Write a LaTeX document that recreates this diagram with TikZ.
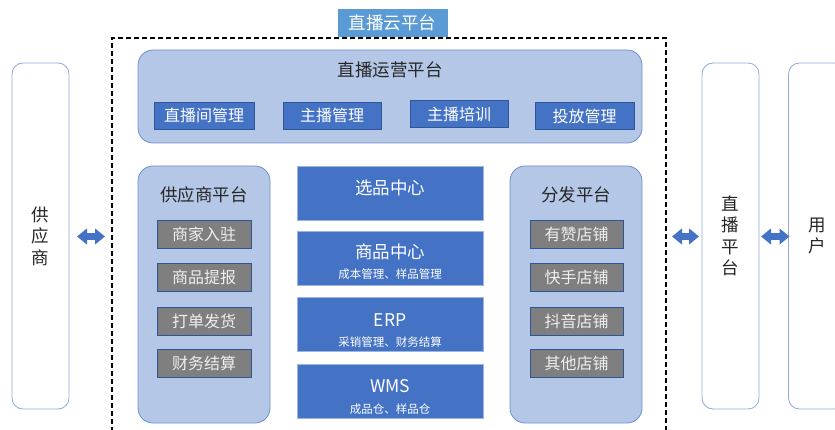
\documentclass[tikz,border=0pt]{standalone}
\usepackage{fontspec}
\setmainfont{Noto Sans CJK SC}
\usetikzlibrary{arrows.meta}
\definecolor{lblue}{HTML}{B4C7E7}
\definecolor{mblue}{HTML}{4472C4}
\definecolor{tblue}{HTML}{5B9BD5}
\definecolor{gbox}{HTML}{7F7F7F}
\definecolor{edgeblue}{HTML}{6F8FCF}
\definecolor{sideedge}{HTML}{8FAADC}
\definecolor{darkedge}{HTML}{2F5597}
\definecolor{coreedge}{HTML}{9DB3E0}
\definecolor{graytext}{HTML}{EFEFEF}
\definecolor{titletext}{HTML}{262626}
\newcommand{\fsz}[1]{\fontsize{#1}{#1}\selectfont}
\begin{document}
\begin{tikzpicture}[x=1pt,y=-1pt,
  every node/.style={inner sep=0pt, outer sep=0pt},
  cont/.style={draw=edgeblue, line width=0.8pt, fill=lblue, rounded corners=15pt},
  side/.style={draw=sideedge, line width=0.8pt, fill=white, rounded corners=11pt, minimum width=57pt, minimum height=346pt, align=center, text=titletext, font=\fontsize{17.5}{21.5}\selectfont},
  subbox/.style={draw=darkedge, line width=0.5pt, fill=mblue, text=white, minimum height=27pt, font=\fsz{16}},
  graybox/.style={draw=darkedge, line width=0.6pt, fill=gbox, text=graytext, minimum height=28pt, font=\fsz{16}},
  core/.style={draw=coreedge, line width=0.5pt, fill=mblue, minimum width=186pt, minimum height=54pt},
  coretext/.style={text=white, font=\fsz{17.5}},
  coresub/.style={text=white, font=\fsz{11.5}},
  conttitle/.style={text=titletext, font=\fsz{17.5}},
  dbl/.style={draw=mblue, line width=7pt, {Triangle[length=10pt,width=15.5pt]}-{Triangle[length=10pt,width=15.5pt]}}
]
\useasboundingbox (0,0) rectangle (835,430);
\clip (0,0) rectangle (835,430);
\fill[white] (0,0) rectangle (835,430);

% cloud platform
\node[draw=black, line width=1.1pt, dash pattern=on 5pt off 3pt, minimum width=554pt, minimum height=407pt, anchor=north west] (cloud) at (112,38) {};
\node[fill=tblue, text=white, minimum width=110pt, minimum height=28pt, font=\fsz{17.5}] (title) at (392.5,23) {直播云平台};

% operations platform
\node[cont, minimum width=504pt, minimum height=93pt] (ops) at (390,96.5) {};
\node[conttitle] (opsT) at (390,70) {直播运营平台};
\node[subbox, minimum width=100pt] (o1) at (204,115.5) {直播间管理};
\node[subbox, minimum width=98pt] (o2) at (332,115.5) {主播管理};
\node[subbox, minimum width=98pt] (o3) at (459,114) {主播培训};
\node[subbox, minimum width=99pt] (o4) at (584.5,116) {投放管理};

% supplier platform
\node[cont, minimum width=132pt, minimum height=257pt] (supp) at (204,294.5) {};
\node[conttitle] (suppT) at (204,195) {供应商平台};
\node[graybox, minimum width=94pt] (s1) at (204,234) {商家入驻};
\node[graybox, minimum width=94pt] (s2) at (204,277.5) {商品提报};
\node[graybox, minimum width=94pt] (s3) at (204,321) {打单发货};
\node[graybox, minimum width=94pt] (s4) at (204,363.5) {财务结算};

% distribution platform
\node[cont, minimum width=132pt, minimum height=257pt] (dist) at (576,294.5) {};
\node[conttitle] (distT) at (576,195) {分发平台};
\node[graybox, minimum width=93pt] (d1) at (576.5,234) {有赞店铺};
\node[graybox, minimum width=93pt] (d2) at (576.5,277.5) {快手店铺};
\node[graybox, minimum width=93pt] (d3) at (576.5,321) {抖音店铺};
\node[graybox, minimum width=93pt] (d4) at (576.5,363.5) {其他店铺};

% core boxes
\node[core] (c1) at (390,193) {};
\node[coretext] (c1T) at (390,188) {选品中心};
\node[core] (c2) at (390,258) {};
\node[coretext] (c2T) at (390,252) {商品中心};
\node[coresub] (c2S) at (390,274) {成本管理、样品管理};
\node[core] (c3) at (390,324.5) {};
\node[coretext] (c3T) at (390,320) {ERP};
\node[coresub] (c3S) at (390,342) {采销管理、财务结算};
\node[core] (c4) at (390,391) {};
\node[coretext] (c4T) at (390,386) {WMS};
\node[coresub] (c4S) at (390,409) {成品仓、样品仓};

% side boxes
\node[side] (sup) at (40.5,236) {供\\应\\商};
\node[side] (live) at (730.5,236) {直\\播\\平\\台};
\node[side] (user) at (817,236) {用\\户};

% arrows
\draw[dbl] ([xshift=8pt,yshift=-0.5pt]sup.east) -- ([xshift=-7pt,yshift=-0.5pt]sup.east -| cloud.west);
\draw[dbl] ([xshift=6pt,yshift=-0.5pt]sup.east -| cloud.east) -- ([xshift=-3pt,yshift=-0.5pt]live.west);
\draw[dbl] ([xshift=2pt,yshift=-0.5pt]live.east) -- ([xshift=1pt,yshift=-0.5pt]user.west);
\end{tikzpicture}
\end{document}
